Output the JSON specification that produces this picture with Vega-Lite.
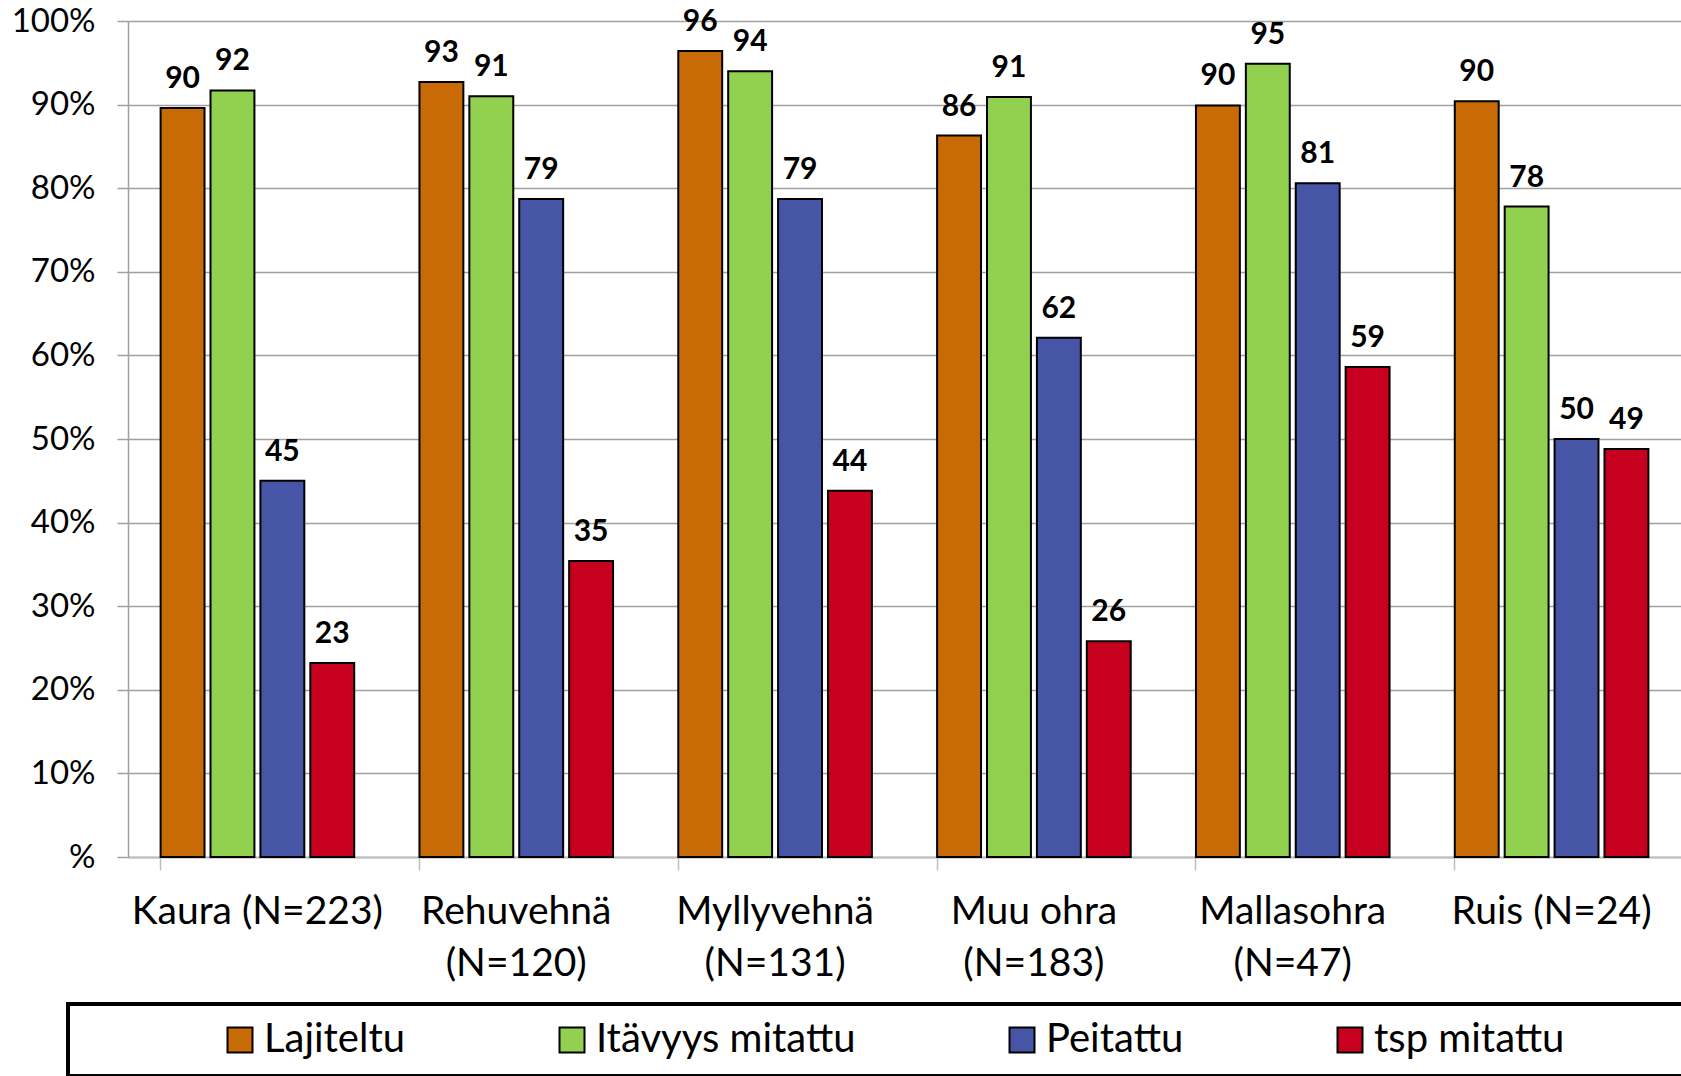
{
  "$schema": "https://vega.github.io/schema/vega-lite/v6.json",
  "width": 1553,
  "height": 836,
  "autosize": {"type": "none"},
  "padding": {"left": 128, "top": 21, "right": 0, "bottom": 219},
  "background": "white",
  "config": {"view": {"stroke": null}, "font": "Lato"},
  "data": {
    "values": [
      {"crop": "Kaura (N=223)", "series": "Lajiteltu", "value": 89.6},
      {"crop": "Kaura (N=223)", "series": "Itävyys mitattu", "value": 91.7},
      {"crop": "Kaura (N=223)", "series": "Peitattu", "value": 45.0},
      {"crop": "Kaura (N=223)", "series": "tsp mitattu", "value": 23.2},
      {"crop": "Rehuvehnä (N=120)", "series": "Lajiteltu", "value": 92.7},
      {"crop": "Rehuvehnä (N=120)", "series": "Itävyys mitattu", "value": 91.0},
      {"crop": "Rehuvehnä (N=120)", "series": "Peitattu", "value": 78.7},
      {"crop": "Rehuvehnä (N=120)", "series": "tsp mitattu", "value": 35.4},
      {"crop": "Myllyvehnä (N=131)", "series": "Lajiteltu", "value": 96.4},
      {"crop": "Myllyvehnä (N=131)", "series": "Itävyys mitattu", "value": 94.0},
      {"crop": "Myllyvehnä (N=131)", "series": "Peitattu", "value": 78.7},
      {"crop": "Myllyvehnä (N=131)", "series": "tsp mitattu", "value": 43.8},
      {"crop": "Muu ohra (N=183)", "series": "Lajiteltu", "value": 86.3},
      {"crop": "Muu ohra (N=183)", "series": "Itävyys mitattu", "value": 90.9},
      {"crop": "Muu ohra (N=183)", "series": "Peitattu", "value": 62.1},
      {"crop": "Muu ohra (N=183)", "series": "tsp mitattu", "value": 25.8},
      {"crop": "Mallasohra (N=47)", "series": "Lajiteltu", "value": 89.9},
      {"crop": "Mallasohra (N=47)", "series": "Itävyys mitattu", "value": 94.9},
      {"crop": "Mallasohra (N=47)", "series": "Peitattu", "value": 80.6},
      {"crop": "Mallasohra (N=47)", "series": "tsp mitattu", "value": 58.6},
      {"crop": "Ruis (N=24)", "series": "Lajiteltu", "value": 90.4},
      {"crop": "Ruis (N=24)", "series": "Itävyys mitattu", "value": 77.8},
      {"crop": "Ruis (N=24)", "series": "Peitattu", "value": 50.0},
      {"crop": "Ruis (N=24)", "series": "tsp mitattu", "value": 48.8}
    ]
  },
  "encoding": {
    "x": {
      "field": "crop",
      "type": "nominal",
      "sort": null,
      "scale": {"paddingInner": 0.252, "paddingOuter": 0.126},
      "axis": {
        "title": null,
        "labelAngle": 0,
        "labelFontSize": 39,
        "labelColor": "black",
        "labelFont": "Lato",
        "bandPosition": 0,
        "labelDx": 129.4,
        "tickSize": 13,
        "tickColor": "#bfbfbf",
        "tickWidth": 1.5,
        "domainColor": "#bfbfbf",
        "domainWidth": 2,
        "labelPadding": 22,
        "labelLineHeight": 52,
        "labelBaseline": "top",
        "labelLimit": 0,
        "labelOverlap": false,
        "grid": false,
        "labelExpr": "length(datum.label) > 14 ? [substring(datum.label, 0, indexof(datum.label, ' (')), substring(datum.label, indexof(datum.label, ' (') + 1)] : datum.label"
      }
    },
    "xOffset": {
      "field": "series",
      "type": "nominal",
      "sort": ["Lajiteltu", "Itävyys mitattu", "Peitattu", "tsp mitattu"],
      "scale": {"paddingInner": 0.12, "paddingOuter": 0}
    },
    "y": {
      "field": "value",
      "type": "quantitative",
      "scale": {"domain": [0, 100], "nice": false},
      "axis": {
        "title": null,
        "values": [0, 10, 20, 30, 40, 50, 60, 70, 80, 90, 100],
        "labelExpr": "datum.value == 0 ? '%' : datum.value + '%'",
        "labelFontSize": 33,
        "labelColor": "black",
        "labelFont": "Lato",
        "labelPadding": 22,
        "tickSize": 11,
        "tickColor": "#a0a0a0",
        "tickWidth": 1.5,
        "domainColor": "#a0a0a0",
        "domainWidth": 1.5,
        "gridColor": "#a0a0a0",
        "gridWidth": 1.5
      }
    }
  },
  "layer": [
    {
      "mark": {"type": "bar", "stroke": "black", "strokeWidth": 2},
      "encoding": {
        "color": {
          "field": "series",
          "type": "nominal",
          "scale": {
            "domain": ["Lajiteltu", "Itävyys mitattu", "Peitattu", "tsp mitattu"],
            "range": ["#C86B07", "#92D050", "#4655A5", "#C6001E"]
          },
          "legend": {
            "orient": "none",
            "legendX": -60,
            "legendY": 983,
            "direction": "horizontal",
            "columns": 5,
            "values": ["Lajiteltu", "Itävyys mitattu", "Peitattu", "tsp mitattu", "zz"],
            "title": " ",
            "titleOrient": "left",
            "titleFontSize": 1,
            "titlePadding": 136,
            "padding": 16,
            "strokeColor": "black",
            "fillColor": "white",
            "symbolType": "square",
            "symbolSize": 625,
            "symbolStrokeColor": "black",
            "symbolStrokeWidth": 2,
            "symbolOpacity": 1,
            "labelFontSize": 40,
            "labelFont": "Lato",
            "labelColor": "black",
            "labelOffset": 4,
            "labelLimit": 0,
            "columnPadding": 146,
            "labelExpr": "datum.label == 'zz' ? '' : datum.label",
            "encode": {
              "legend": {"update": {"stroke": {"value": "black"}, "strokeWidth": {"value": 4}}}
            }
          }
        }
      }
    },
    {
      "mark": {"type": "text", "fontWeight": "bold", "fontSize": 30, "font": "Lato", "dy": -20, "baseline": "alphabetic", "color": "black"},
      "encoding": {
        "text": {"field": "value", "type": "quantitative", "format": ".0f"}
      }
    }
  ]
}
